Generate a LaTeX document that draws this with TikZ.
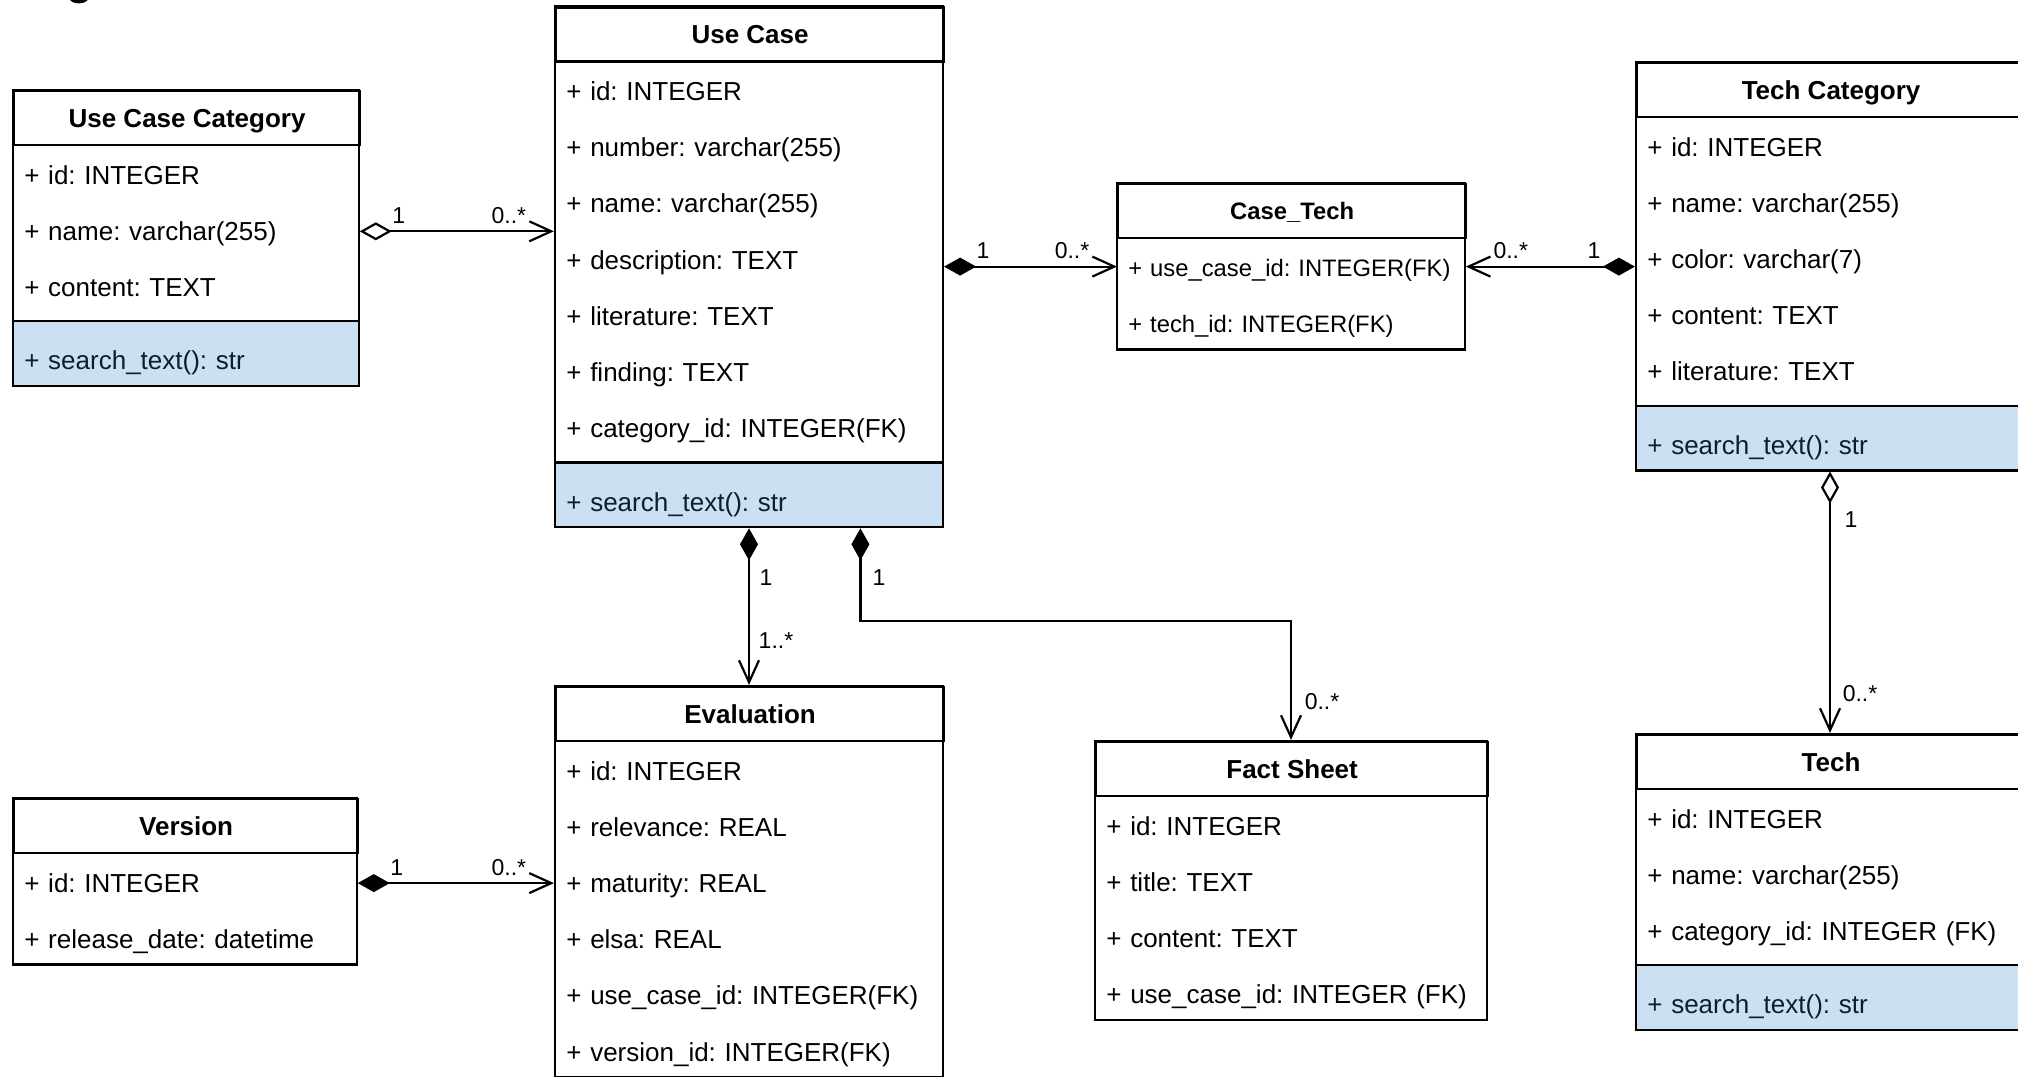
\documentclass[tikz,border=0pt]{standalone}
\usepackage{fontspec}
\setmainfont{Liberation Sans}
\usetikzlibrary{arrows.meta,calc,fit}
\frenchspacing

\definecolor{methodfill}{HTML}{CCE0F4}
\definecolor{methodtext}{HTML}{0F1E2E}

\tikzset{
  clshead/.style={draw=black, line width=1.1pt, minimum height=27pt, inner sep=0pt},
  clsrow/.style={inner xsep=5.5pt, inner ysep=0pt, minimum height=28.1pt, align=left},
  clsline/.style={line width=1.1pt},
  clsbox/.style={draw=black, line width=1.1pt, inner sep=0pt},
  mult/.style={font=\fontsize{11.5}{13.5}\selectfont, inner sep=0pt},
  compo/.style={line width=1.1pt,
    {Diamond[length=16pt,width=9pt]}-{Straight Barb[length=11pt,width=10pt]}},
  aggr/.style={line width=1.1pt,
    {Diamond[fill=white,length=16pt,width=9pt]}-{Straight Barb[length=11pt,width=10pt]}},
}

% UML class box: [font size], name, left x, top y, width, title, attribute list, method (may be empty)
\newcommand\umlclass[8][13]{%
  \pgfmathsetmacro\clsw{#5*0.5}%
  \pgfmathsetmacro\clstw{#5*0.5-11}%
  \pgfmathsetmacro\clsth{#1*0.716}%
  \pgfmathsetmacro\clsrh{#1*0.92}%
  \pgfmathsetmacro\clsbs{#1*1.2}%
  \node[clshead, minimum width=\clsw pt, anchor=north west, text height=\clsth pt, text depth=0pt,
        font=\fontsize{#1}{\clsbs}\selectfont\bfseries] (#2-hd) at (#3,#4) {#6};
  \foreach \attr [count=\k] in {#7} {%
    \node[clsrow, text width=\clstw pt, anchor=west, text height=\clsrh pt, text depth=0pt,
          font=\fontsize{#1}{\clsbs}\selectfont] (#2-\k) at (#3,{#4+54+(\k-0.5)*56.2}) {\attr};
    \xdef\clsrows{\k}%
  }%
  \pgfmathsetmacro\clsbot{#4+54+\clsrows*56.2}%
  \def\clsmeth{#8}%
  \ifx\clsmeth\empty\else
    \pgfmathsetmacro\clssep{\clsbot+8.6}%
    \pgfmathsetmacro\clsbot{\clsbot+17.2+56.2}%
    \fill[methodfill] (#3,\clssep) rectangle ({#3+#5},\clsbot);
    \draw[clsline] (#3,\clssep) -- ({#3+#5},\clssep);
    \node[clsrow, text width=\clstw pt, anchor=west, text=methodtext, text height=\clsrh pt,
          text depth=0pt, font=\fontsize{#1}{\clsbs}\selectfont] (#2-m) at (#3,{\clsbot-28.1}) {#8};
  \fi
  \coordinate (#2-nw) at (#3,#4);
  \coordinate (#2-se) at ({#3+#5},\clsbot);
  \node[clsbox, fit=(#2-nw)(#2-se)] (#2) {};
}

\begin{document}
\begin{tikzpicture}[x=0.5pt,y=-0.5pt]
\useasboundingbox (0,0) rectangle (2018,1076);
\clip (0,0) rectangle (2018,1076);

% heading above the diagram, only its lowest letter part reaches into the frame
\node[anchor=base west, inner sep=0pt, font=\bfseries\fontsize{22}{26}\selectfont] (ttl) at (66,-5) {g};

\umlclass{ucc}{13}{90}{346}{Use Case Category}
  {+ id: INTEGER, + name: varchar(255), + content: TEXT}{+ search\_text(): str}
\umlclass{uc}{555}{6.4}{388}{Use Case}
  {+ id: INTEGER, + number: varchar(255), + name: varchar(255), + description: TEXT,
   + literature: TEXT, + finding: TEXT, + category\_id: INTEGER(FK)}{+ search\_text(): str}
\umlclass[11.9]{ct}{1117}{183}{348}{Case\_Tech}
  {+ use\_case\_id: INTEGER(FK), + tech\_id: INTEGER(FK)}{}
\umlclass{tc}{1636}{62}{388}{Tech Category}
  {+ id: INTEGER, + name: varchar(255), + color: varchar(7), + content: TEXT,
   + literature: TEXT}{+ search\_text(): str}
\umlclass{tech}{1636}{734}{388}{Tech}
  {+ id: INTEGER, + name: varchar(255), + category\_id: INTEGER (FK)}{+ search\_text(): str}
\umlclass{ver}{13}{798}{344}{Version}
  {+ id: INTEGER, + release\_date: datetime}{}
\umlclass{ev}{555}{686}{388}{Evaluation}
  {+ id: INTEGER, + relevance: REAL, + maturity: REAL, + elsa: REAL,
   + use\_case\_id: INTEGER(FK), + version\_id: INTEGER(FK)}{}
\umlclass{fs}{1095}{741}{392}{Fact Sheet}
  {+ id: INTEGER, + title: TEXT, + content: TEXT, + use\_case\_id: INTEGER (FK)}{}

% attachment points of the horizontal associations
\coordinate (a-s) at ($(ucc-2.east)+(0,3)$);
\coordinate (b-e) at ($(ct-1.west)+(0,1.5)$);
\coordinate (c-e) at ($(ct-1.east)+(0,1.5)$);
\coordinate (g-s) at ($(ver-1.east)+(0,3)$);

% associations
\draw[aggr] (a-s) -- (a-s -| uc.west);
\node[mult] (a-m1) at ($(a-s)+(39,-16)$) {1};
\node[mult] (a-m2) at ($(a-s -| uc.west)+(-45,-16)$) {0..*};

\draw[compo] (uc.east |- b-e) -- (b-e);
\node[mult] (b-m1) at ($(uc.east |- b-e)+(39,-16)$) {1};
\node[mult] (b-m2) at ($(b-e)+(-45,-16)$) {0..*};

\draw[compo] (tc.west |- c-e) -- (c-e);
\node[mult] (c-m1) at ($(tc.west |- c-e)+(-41,-16)$) {1};
\node[mult] (c-m2) at ($(c-e)+(45,-16)$) {0..*};

\draw[compo] (uc.south) -- (ev.north);
\node[mult] (d-m1) at ($(uc.south)+(17,49)$) {1};
\node[mult] (d-m2) at ($(ev.north)+(27,-44)$) {1..*};

\coordinate (uc-fs) at ($(uc.south west)+(306.5,0)$);
\draw[compo] (uc-fs) -- ++(0,93) -| (fs.north);
\node[mult] (e-m1) at ($(uc-fs)+(18.5,49)$) {1};
\node[mult] (e-m2) at ($(fs.north)+(31,-38)$) {0..*};

\draw[aggr] (tc.south) -- (tech.north);
\node[mult] (f-m1) at ($(tc.south)+(21,48)$) {1};
\node[mult] (f-m2) at ($(tech.north)+(30,-39)$) {0..*};

\draw[compo] (g-s) -- (g-s -| ev.west);
\node[mult] (g-m1) at ($(g-s)+(39,-16)$) {1};
\node[mult] (g-m2) at ($(g-s -| ev.west)+(-45,-16)$) {0..*};
\end{tikzpicture}
\end{document}
